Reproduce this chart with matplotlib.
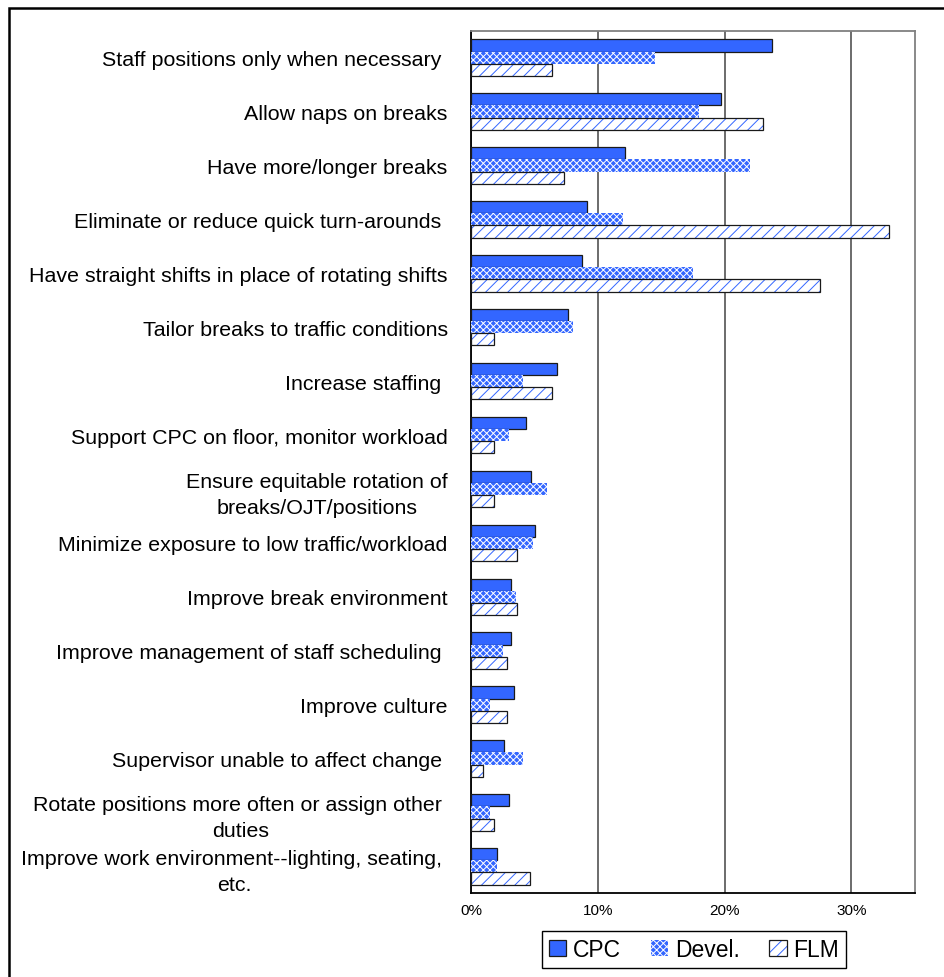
import matplotlib
matplotlib.use('Agg')
import matplotlib.pyplot as plt
from matplotlib.patches import Rectangle, Patch
from matplotlib.legend_handler import HandlerTuple
from matplotlib.ticker import FuncFormatter
import numpy as np

plt.rcParams['font.family'] = ['Liberation Sans', 'DejaVu Sans']
plt.rcParams['hatch.linewidth'] = 0.7

# data (percent of respondents)
categories = [
    'Staff positions only when necessary ',
    'Allow naps on breaks',
    'Have more/longer breaks',
    'Eliminate or reduce quick turn-arounds ',
    'Have straight shifts in place of rotating shifts',
    'Tailor breaks to traffic conditions',
    'Increase staffing ',
    'Support CPC on floor, monitor workload',
    'Ensure equitable rotation of\nbreaks/OJT/positions',
    'Minimize exposure to low traffic/workload',
    'Improve break environment',
    'Improve management of staff scheduling ',
    'Improve culture',
    'Supervisor unable to affect change ',
    'Rotate positions more often or assign other \nduties',
    'Improve work environment--lighting, seating, \netc.',
]
cpc = [23.7, 19.7, 12.1, 9.1, 8.7, 7.6, 6.8, 4.3, 4.7, 5.0, 3.1, 3.1, 3.4, 2.6, 2.95, 2.0]
devel = [14.5, 18.0, 22.0, 12.0, 17.5, 8.0, 4.1, 3.0, 6.0, 4.9, 3.5, 2.5, 1.5, 4.1, 1.5, 2.0]
flm = [6.4, 23.0, 7.3, 33.0, 27.5, 1.8, 6.4, 1.8, 1.8, 3.6, 3.6, 2.8, 2.8, 0.9, 1.8, 4.6]
series_names = ['CPC', 'Devel.', 'FLM']

blue = '#3366FF'
W, H = 944, 978
fig = plt.figure(figsize=(W / 100, H / 100), dpi=100)
ax = fig.add_axes([471.3 / W, 1 - 894.3 / H, (914.7 - 471.3) / W, (894.3 - 31.7) / H])

n = len(categories)
y = np.arange(n)
bh = 0.226

# CPC: solid
ax.barh(y - bh, cpc, height=bh, color=blue, edgecolor='#1a1a1a', linewidth=0.9, zorder=3)
# Devel.: blue with fine white crosshatch
ax.barh(y, devel, height=bh, color=blue, edgecolor='white', hatch='xxxxx', linewidth=0, zorder=3)
# FLM: white with blue diagonal hatch and dark outline
ax.barh(y + bh, flm, height=bh, color='white', edgecolor=blue, hatch='///', linewidth=0, zorder=3)
ax.barh(y + bh, flm, height=bh, color='none', edgecolor='#1a1a1a', linewidth=0.9, zorder=4)

ax.set_ylim(n - 0.5, -0.5)
ax.set_xlim(0, 35)
ax.set_xticks([0, 10, 20, 30])
ax.xaxis.set_major_formatter(FuncFormatter(lambda v, p: '%d%%' % v))
ax.set_yticks(y)
ax.set_yticklabels(categories, fontsize=15.4, ha='right', multialignment='center',
                   linespacing=1.45)
ax.tick_params(axis='y', length=0, pad=17)
ax.tick_params(axis='x', length=0, pad=7, labelsize=11)

ax.grid(axis='x', color='#444444', linewidth=1.1, zorder=0)
for s in ['top', 'right']:
    ax.spines[s].set_color('#808080')
    ax.spines[s].set_linewidth(1.3)
for s in ['left', 'bottom']:
    ax.spines[s].set_color('black')
    ax.spines[s].set_linewidth(1.3)

h_cpc = Patch(facecolor=blue, edgecolor='#1a1a1a', linewidth=0.9)
h_dev = Patch(facecolor=blue, edgecolor='white', hatch='xxxxx', linewidth=0)
h_flm = (Patch(facecolor='white', edgecolor=blue, hatch='///', linewidth=0),
         Patch(facecolor='none', edgecolor='#1a1a1a', linewidth=0.9))
leg = fig.legend([h_cpc, h_dev, h_flm], series_names, loc='center', ncol=3,
                 bbox_to_anchor=(694 / W, 1 - 950.5 / H), fontsize=16.5,
                 frameon=True, fancybox=False, framealpha=1, edgecolor='black',
                 handlelength=0.75, handleheight=0.75, handletextpad=0.3,
                 columnspacing=1.3, borderpad=0.3, borderaxespad=0,
                 handler_map={tuple: HandlerTuple(ndivide=1, pad=0)})
leg.get_frame().set_linewidth(1.0)

# outer border (top and left edges visible)
fig.add_artist(Rectangle((8.5 / W, -0.1), 1.2, 1.1 - 8.5 / H, transform=fig.transFigure,
                         facecolor='none', edgecolor='black', linewidth=1.8))

fig.savefig('out.png', dpi=100)
